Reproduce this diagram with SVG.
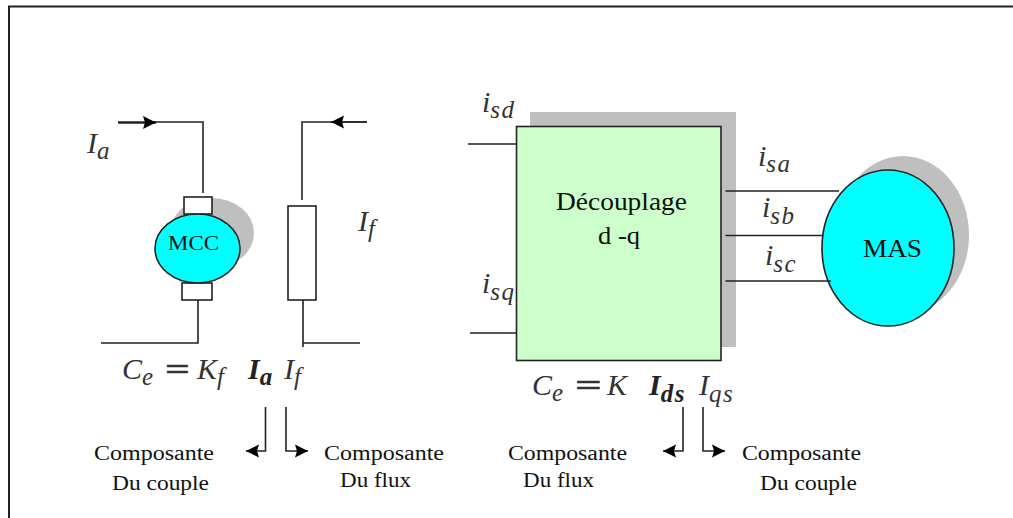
<svg xmlns="http://www.w3.org/2000/svg" width="1013" height="518" viewBox="0 0 1013 518">
<defs>
<marker id="ah" markerUnits="userSpaceOnUse" markerWidth="14" markerHeight="14" refX="13" refY="7" orient="auto"><path d="M0 0.500 L13 7 L0 13.500 L2 7 Z" fill="#000"/></marker>
</defs>
<style>
.l{fill:none;stroke:#222;stroke-width:1.6}
.b{fill:#fff;stroke:#222;stroke-width:1.6}
.t{font-family:"Liberation Serif",serif;fill:#111}
.s{font-family:"Liberation Serif",serif;font-size:20px;fill:#111}
.m{font-family:"Liberation Serif",serif;font-style:italic;font-size:30px;fill:#333}
.u{font-size:25px;letter-spacing:1.5px}
.e{font-family:"Liberation Serif",serif;font-size:30px;fill:#333;font-weight:bold;stroke:#333;stroke-width:.4}
.bold{font-weight:bold;fill:#222}
</style>
<rect width="1013" height="518" fill="#fff"/>
<path id="frame" d="M9 518 V6.500 H1013" fill="none" stroke="#222" stroke-width="2"/>
<g id="mcc">
<ellipse cx="212" cy="233" rx="42" ry="35" fill="#bfbfbf"/>
<rect class="b" x="184" y="197" width="28" height="17"/>
<rect class="b" x="182" y="283" width="30" height="17"/>
<ellipse cx="197.500" cy="248.500" rx="42.500" ry="34.500" fill="#00ffff" stroke="#222" stroke-width="1.600"/>
<text class="t" x="168" y="250" font-size="20" textLength="51" lengthAdjust="spacingAndGlyphs">MCC</text>
</g>
<g id="resistor"><rect class="b" x="288" y="206" width="28" height="94"/></g>
<g id="decouplage">
<rect x="530" y="112" width="206" height="235" fill="#bfbfbf"/>
<rect x="516.500" y="126.500" width="204.500" height="234" fill="#ccffcc" stroke="#222" stroke-width="1.600"/>
<text class="t" x="556" y="210" font-size="25" textLength="131" lengthAdjust="spacingAndGlyphs">Découplage</text>
<text class="t" x="598" y="244" font-size="25" textLength="42" lengthAdjust="spacingAndGlyphs">d -q</text>
</g>
<g id="mas">
<ellipse cx="903" cy="235" rx="66" ry="79" fill="#bfbfbf"/>
<ellipse cx="888" cy="248" rx="66" ry="78" fill="#00ffff" stroke="#222" stroke-width="1.600"/>
<text class="t" x="863" y="257" font-size="26" textLength="59" lengthAdjust="spacingAndGlyphs">MAS</text>
</g>
<g id="connectors">
<path class="l" d="M146 122 H203 V193"/>
<path class="l" d="M118 122.500 H156" style="stroke-width:2.600" marker-end="url(#ah)"/>
<path class="l" d="M367 122 H302 V200"/>
<path class="l" d="M367 122 H331" marker-end="url(#ah)"/>
<path class="l" d="M198 300 V343 H101"/>
<path class="l" d="M303 300 V347 M303 343 H360"/>
<path class="l" d="M468 144 H516 M470 333 H516"/>
<path class="l" d="M725.500 191 H839 M725.500 235.500 H822 M725.500 281 H831"/>
<path class="l" d="M265.500 407 V451 H246" marker-end="url(#ah)"/>
<path class="l" d="M286 407 V451 H308" marker-end="url(#ah)"/>
<path class="l" d="M683 407 V451 H663" marker-end="url(#ah)"/>
<path class="l" d="M703 407 V451 H725" marker-end="url(#ah)"/>
</g>
<g id="labels">
<text class="m" x="87" y="153">I<tspan class="u" dy="6">a</tspan></text>
<text class="m" x="358" y="231">I<tspan class="u" dy="6">f</tspan></text>
<text class="m" x="482" y="112">i<tspan class="u" dy="6">sd</tspan></text>
<text class="m" x="482" y="293">i<tspan class="u" dy="7">sq</tspan></text>
<text class="m" x="758" y="166">i<tspan class="u" dy="6">sa</tspan></text>
<text class="m" x="762" y="217">i<tspan class="u" dy="7">sb</tspan></text>
<text class="m" x="765" y="265">i<tspan class="u" dy="7">sc</tspan></text>
<text class="m" x="122" y="379">C<tspan class="u" dy="6">e</tspan></text>
<text class="e" x="165" y="379" textLength="25" lengthAdjust="spacingAndGlyphs">=</text>
<text class="m" x="197" y="379">K<tspan class="u" dy="6">f</tspan></text>
<text class="m bold" x="248" y="379">I<tspan class="u" dy="6">a</tspan></text>
<text class="m" x="284" y="379">I<tspan class="u" dy="6">f</tspan></text>
<text class="m" x="532" y="395">C<tspan class="u" dy="6">e</tspan></text>
<text class="e" x="575" y="395" textLength="27" lengthAdjust="spacingAndGlyphs">=</text>
<text class="m" x="607" y="395">K</text>
<text class="m bold" x="649" y="395">I<tspan class="u" dy="7">ds</tspan></text>
<text class="m" x="699" y="395">I<tspan class="u" dy="7">qs</tspan></text>
<text class="s" x="94" y="460" textLength="120" lengthAdjust="spacingAndGlyphs">Composante</text>
<text class="s" x="112" y="490" textLength="97" lengthAdjust="spacingAndGlyphs">Du couple</text>
<text class="s" x="324" y="460" textLength="120" lengthAdjust="spacingAndGlyphs">Composante</text>
<text class="s" x="340" y="487" textLength="71" lengthAdjust="spacingAndGlyphs">Du flux</text>
<text class="s" x="508" y="460" textLength="119" lengthAdjust="spacingAndGlyphs">Composante</text>
<text class="s" x="523" y="487" textLength="71" lengthAdjust="spacingAndGlyphs">Du flux</text>
<text class="s" x="742" y="460" textLength="119" lengthAdjust="spacingAndGlyphs">Composante</text>
<text class="s" x="760" y="490" textLength="97" lengthAdjust="spacingAndGlyphs">Du couple</text>
</g>
</svg>
